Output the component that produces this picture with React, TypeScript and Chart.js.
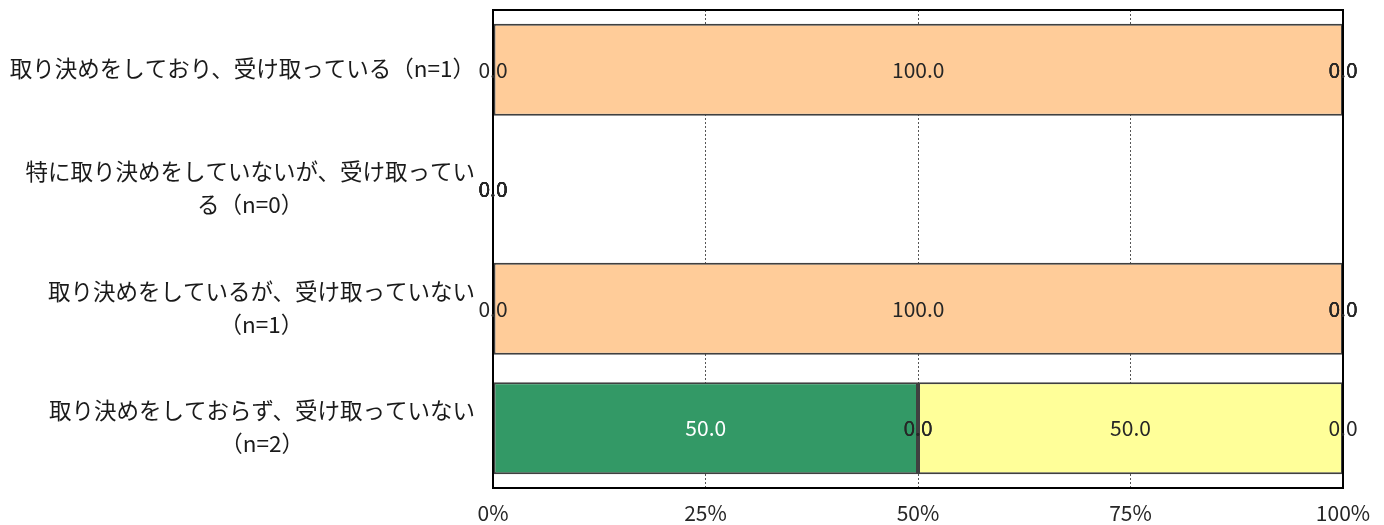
import React, { useEffect, useRef } from "react";
import { Chart, registerables } from "chart.js";

Chart.register(...registerables);

// ---- data ----
const categoryLines: string[][] = [
  ["取り決めをしており、受け取っている（n=1）"],
  ["特に取り決めをしていないが、受け取ってい", "る（n=0）"],
  ["取り決めをしているが、受け取っていない", "（n=1）"],
  ["取り決めをしておらず、受け取っていない", "（n=2）"],
];
const categories = categoryLines.map((l) => l.join(""));

const seriesNames = ["系列1", "系列2", "系列3", "系列4", "系列5"];
const series1 = [0, 0, 0, 50];
const series2 = [100, 0, 100, 0];
const series3 = [0, 0, 0, 0];
const series4 = [0, 0, 0, 50];
const series5 = [0, 0, 0, 0];
const seriesValues = [series1, series2, series3, series4, series5];
const seriesColors = ["#339966", "#FFCC99", "#C0C0C0", "#FFFF99", "#99CCFF"];
const labelColors = ["#FFFFFF", "#262626", "#262626", "#262626", "#262626"];

const xTickValues = [0, 25, 50, 75, 100];

const FONT = "'Noto Sans CJK JP', 'Noto Sans', sans-serif";

const framePlugin = {
  id: "frame",
  afterDatasetsDraw(chart: any) {
    const { ctx, chartArea } = chart;
    ctx.save();
    ctx.strokeStyle = "#000000";
    ctx.lineWidth = 2;
    ctx.strokeRect(chartArea.left, chartArea.top, chartArea.right - chartArea.left, chartArea.bottom - chartArea.top);
    ctx.restore();
  },
};

const valueLabelPlugin = {
  id: "valueLabels",
  afterDatasetsDraw(chart: any) {
    const { ctx } = chart;
    ctx.save();
    ctx.font = `21px ${FONT}`;
    ctx.textAlign = "center";
    ctx.textBaseline = "middle";
    chart.data.datasets.forEach((ds: any, di: number) => {
      const meta = chart.getDatasetMeta(di);
      meta.data.forEach((el: any, i: number) => {
        const v = ds.data[i];
        const x = (el.x + el.base) / 2;
        ctx.fillStyle = v > 0 ? labelColors[di] : "#262626";
        ctx.fillText(Number(v).toFixed(1), x, el.y);
      });
    });
    ctx.restore();
  },
};

const yLabelPlugin = {
  id: "yLabels",
  afterDraw(chart: any) {
    const { ctx } = chart;
    const yScale = chart.scales.y;
    const rightEdge = 475;
    const lineH = 33;
    ctx.save();
    ctx.font = `22.5px ${FONT}`;
    ctx.fillStyle = "#1a1a1a";
    ctx.textAlign = "center";
    ctx.textBaseline = "middle";
    categoryLines.forEach((lines, i) => {
      const yc = yScale.getPixelForValue(i);
      const w = Math.max(...lines.map((l) => ctx.measureText(l).width));
      const cx = rightEdge - w / 2;
      lines.forEach((l, j) => {
        ctx.fillText(l, cx, yc - 1 + (j - (lines.length - 1) / 2) * lineH);
      });
    });
    ctx.restore();
  },
};

export default function App() {
  const ref = useRef<HTMLCanvasElement | null>(null);
  useEffect(() => {
    if (!ref.current) return;
    const chart = new Chart(ref.current, {
      type: "bar",
      data: {
        labels: categories,
        datasets: seriesValues.map((vals, i) => ({
          label: seriesNames[i],
          data: vals,
          backgroundColor: seriesColors[i],
          borderColor: "#404040",
          borderWidth: 2,
          borderSkipped: false,
          barPercentage: 0.77,
          categoryPercentage: 1,
        })),
      },
      options: {
        indexAxis: "y",
        animation: false,
        responsive: false,
        devicePixelRatio: 1,
        layout: { padding: { top: 10, right: 41, bottom: 0, left: 0 } },
        plugins: {
          legend: { display: false },
          tooltip: { enabled: false },
        },
        scales: {
          x: {
            type: "linear",
            stacked: true,
            min: 0,
            max: 100,
            afterBuildTicks: (s: any) => {
              s.ticks = xTickValues.map((v) => ({ value: v }));
            },
            afterFit: (s: any) => {
              s.height = 37;
            },
            ticks: {
              callback: (v: any) => `${v}%`,
              font: { family: FONT, size: 21 },
              color: "#262626",
              padding: 12,
              maxRotation: 0,
            },
            grid: { color: "#555555", lineWidth: 1, drawTicks: false },
            border: { display: false, dash: [2, 2] },
          },
          y: {
            type: "category",
            stacked: true,
            afterFit: (s: any) => {
              s.width = 493;
            },
            ticks: { display: false },
            grid: { display: false },
            border: { display: false },
          },
        },
      } as any,
      plugins: [framePlugin, valueLabelPlugin, yLabelPlugin],
    });
    return () => chart.destroy();
  }, []);
  return (
    <div style={{ position: "fixed", left: 0, top: 0, width: 1384, height: 525, background: "#fff" }}>
      <canvas ref={ref} width={1384} height={525} />
    </div>
  );
}
